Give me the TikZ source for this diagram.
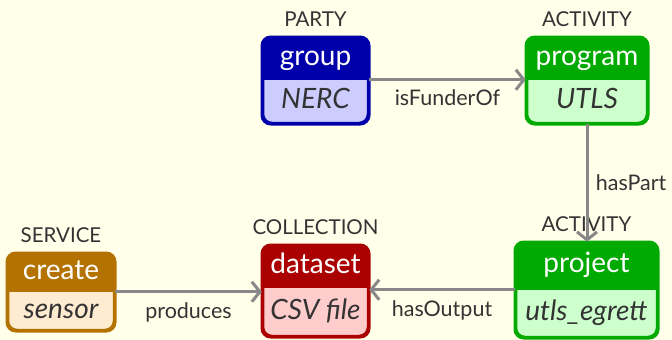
\documentclass[tikz,border=0pt]{standalone}
\usepackage{fontspec}
\setmainfont{Lato}
\usetikzlibrary{arrows.meta,calc}

\definecolor{party}{RGB}{0,0,170}
\definecolor{partybg}{RGB}{204,204,255}
\definecolor{activity}{RGB}{0,170,0}
\definecolor{activitybg}{RGB}{204,255,204}
\definecolor{collection}{RGB}{170,0,0}
\definecolor{collectionbg}{RGB}{255,204,204}
\definecolor{service}{RGB}{180,115,0}
\definecolor{servicebg}{RGB}{255,235,208}
\definecolor{paper}{RGB}{255,255,234}
\definecolor{ink}{RGB}{51,51,51}
\definecolor{linkgray}{RGB}{136,136,136}

% one entity: name, centre, width, height, header height, colour, title, subtitle, type
\newcommand{\entity}[9]{%
  \node[entity, draw=#6, fill=#6bg, minimum width=#3, minimum height=#4,
        label={[typelabel, name=#1-type]above:#9}] (#1) at #2 {};
  \coordinate (#1-split) at ([yshift=-#5]#1.north);
  \begin{scope}
    \clip[rounded corners=9pt] (#1.south west) rectangle (#1.north east);
    \fill[#6] (#1.north west) rectangle (#1.east |- #1-split);
  \end{scope}
  \draw[#6, line width=2.5pt, rounded corners=9pt] (#1.south west) rectangle (#1.north east);
  \node[headtext] (#1-title) at ($(#1.north)!.5!(#1-split)$) {#7};
  \node[bodytext] (#1-name) at ($(#1-split)!.5!(#1.south)$) {#8};
}

\begin{document}
\begin{tikzpicture}[x=1pt, y=-1pt,
    entity/.style={draw, rounded corners=9pt, line width=2.5pt, inner sep=0pt},
    headtext/.style={text=white, font=\fontsize{28}{32}\selectfont, inner sep=0pt,
                     text height=20pt, text depth=6.5pt},
    bodytext/.style={text=ink, font=\fontsize{28}{32}\selectfont\itshape, inner sep=0pt,
                     text height=20pt, text depth=6.5pt},
    typelabel/.style={text=ink, font=\fontsize{20.5}{24}\selectfont, label distance=7pt},
    linklabel/.style={text=ink, font=\fontsize{21.5}{24}\selectfont},
    link/.style={draw=linkgray, line width=3pt, -{Straight Barb[length=8pt, width=20pt]}}]

\fill[paper] (0,0) rectangle (672,340);
\useasboundingbox (0,0) rectangle (672,340);

%% Entities
\entity{group}{(315.5,80.5)}{105pt}{85pt}{43pt}{party}{group}{NERC}{PARTY}
\entity{program}{(587,80.5)}{120pt}{85pt}{43pt}{activity}{program}{UTLS}{ACTIVITY}
\entity{create}{(61,292)}{106pt}{76pt}{39pt}{service}{create}{sensor}{SERVICE}
\entity{dataset}{(315.5,291)}{105pt}{90pt}{43pt}{collection}{dataset}{CSV file}{COLLECTION}
\entity{project}{(586.5,290)}{141pt}{94pt}{48pt}{activity}{project}{utls\_egrett}{ACTIVITY}

%% Links
\draw[link] (group.east |- group-split) -- (program.west |- group-split)
    node[midway, below=5pt, linklabel] {isFunderOf};
\draw[link] (program.south) -- (program.south |- project.north)
    node[midway, right=4pt, linklabel] {hasPart};
\draw[link] (project.west |- project-split) -- (dataset.east |- project-split)
    node[midway, below=6pt, linklabel] {hasOutput};
\draw[link] (create.east |- create-split) -- (dataset.west |- create-split)
    node[midway, below=6pt, linklabel] {produces};

\end{tikzpicture}
\end{document}
